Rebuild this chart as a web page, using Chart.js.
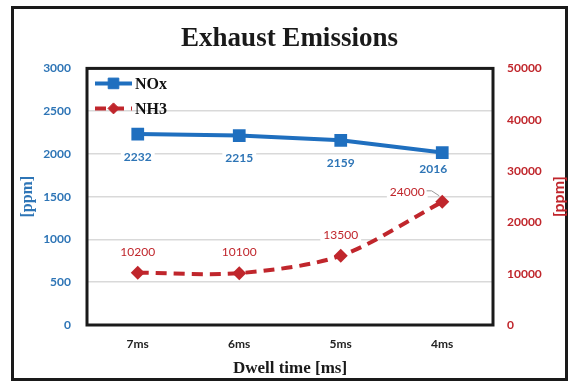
<!DOCTYPE html>
<html>
<head>
<meta charset="utf-8">
<script src="https://cdn.jsdelivr.net/npm/chart.js@4/dist/chart.umd.min.js"></script>
<style>
  html, body { margin: 0; padding: 0; background: #fff; }
  canvas { display: block; }
</style>
</head>
<body>
<canvas id="c" width="571" height="382"></canvas>
<script>
// Dwell time settings and measured exhaust concentrations
const categories = ['7ms', '6ms', '5ms', '4ms'];
const noxValues = [2232, 2215, 2159, 2016];      // left axis, ppm
const nh3Values = [10200, 10100, 13500, 24000];  // right axis, ppm
const leftTicks = [0, 500, 1000, 1500, 2000, 2500, 3000];
const rightTicks = [0, 10000, 20000, 30000, 40000, 50000];

const BLUE = '#1F6FBF';
const BLUE_TEXT = '#2E75B6';
const RED = '#C0262C';
const SERIF = '"Liberation Serif", "Times New Roman", serif';
const SANS = 'Lato, "Open Sans", sans-serif';

// Outer frame, plot border, in-plot legend and right axis title
const framePlugin = {
  id: 'frame',
  beforeDraw(chart) {
    const ctx = chart.ctx;
    ctx.save();
    ctx.fillStyle = '#fff';
    ctx.fillRect(0, 0, chart.width, chart.height);
    ctx.strokeStyle = '#1a1a1a';
    ctx.lineWidth = 3;
    ctx.strokeRect(12.5, 7.5, 554, 372);
    ctx.restore();
  },
  beforeDatasetsDraw(chart) {
    const { ctx, chartArea: a } = chart;
    ctx.save();
    ctx.strokeStyle = '#1a1a1a';
    ctx.lineWidth = 3;
    ctx.strokeRect(a.left, a.top, a.right - a.left, a.bottom - a.top);
    // secondary axis title, reading bottom to top
    const s = chart.scales.y1;
    ctx.translate(s.right - 12, (a.top + a.bottom) / 2);
    ctx.rotate(-Math.PI / 2);
    ctx.fillStyle = RED;
    ctx.font = 'bold 16px ' + SANS;
    ctx.textAlign = 'center';
    ctx.textBaseline = 'middle';
    ctx.fillText('[ppm]', 0, 0);
    ctx.restore();
  },
  afterDatasetsDraw(chart) {
    const { ctx, chartArea: a } = chart;
    ctx.save();
    chart.data.datasets.forEach((ds, i) => {
      const y = a.top + 15 + i * 25;
      const x0 = a.left + 8, x1 = a.left + 45;
      ctx.strokeStyle = ds.borderColor;
      ctx.lineWidth = ds.borderWidth;
      ctx.setLineDash(ds.borderDash || []);
      ctx.beginPath();
      ctx.moveTo(x0, y);
      ctx.lineTo(x1, y);
      ctx.stroke();
      ctx.setLineDash([]);
      ctx.fillStyle = ds.backgroundColor;
      ctx.strokeStyle = ds.backgroundColor;
      ctx.lineWidth = 1;
      Chart.helpers.drawPoint(ctx, {
        pointStyle: ds.pointStyle,
        radius: ds.pointStyle === 'rect' ? 7.5 : 5.5,
        borderWidth: 1
      }, (x0 + x1) / 2, y);
      ctx.fillStyle = '#111';
      ctx.font = 'bold 16px ' + SERIF;
      ctx.textBaseline = 'middle';
      ctx.textAlign = 'left';
      ctx.fillText(ds.label, x1 + 3, y + 1);
    });
    ctx.restore();
  }
};

// Value labels next to each marker
const valueLabelPlugin = {
  id: 'valueLabels',
  afterDatasetsDraw(chart) {
    const ctx = chart.ctx;
    ctx.save();
    ctx.textAlign = 'center';
    ctx.textBaseline = 'middle';
    chart.data.datasets.forEach((ds, di) => {
      const meta = chart.getDatasetMeta(di);
      const cfg = ds.valueLabel;
      ctx.font = cfg.font;
      meta.data.forEach((pt, i) => {
        const text = String(ds.data[i]);
        const off = (cfg.offsets && cfg.offsets[i]) || cfg.offset;
        const x = pt.x + off[0];
        const y = pt.y + off[1];
        const w = ctx.measureText(text).width;
        ctx.fillStyle = '#fff';
        ctx.fillRect(x - w / 2 - 3, y - 8, w + 6, 16);
        if (cfg.leader && cfg.leader[i]) {
          ctx.strokeStyle = '#9a9a9a';
          ctx.lineWidth = 1;
          ctx.beginPath();
          ctx.moveTo(x + w / 2 + 2, y - 1);
          ctx.lineTo(x + w / 2 + 7, y - 1);
          ctx.lineTo(pt.x - 3, pt.y - 6);
          ctx.stroke();
        }
        ctx.fillStyle = cfg.color;
        ctx.fillText(text, x, y);
      });
    });
    ctx.restore();
  }
};

new Chart(document.getElementById('c'), {
  type: 'line',
  data: {
    labels: categories,
    datasets: [
      {
        label: 'NOx',
        data: noxValues,
        yAxisID: 'y',
        borderColor: BLUE,
        backgroundColor: BLUE,
        borderWidth: 4,
        pointStyle: 'rect',
        pointRadius: 9,
        pointHoverRadius: 9,
        pointBorderWidth: 0,
        tension: 0,
        valueLabel: { color: BLUE_TEXT, font: 'bold 12px ' + SANS, offset: [0, 23], offsets: { 3: [-9, 17] } }
      },
      {
        label: 'NH3',
        data: nh3Values,
        yAxisID: 'y1',
        borderColor: RED,
        backgroundColor: RED,
        borderWidth: 4,
        borderDash: [11, 7],
        pointStyle: 'rectRot',
        pointRadius: 7,
        pointHoverRadius: 7,
        pointBorderWidth: 0,
        tension: 0.3,
        valueLabel: { color: RED, font: '12px ' + SANS, offset: [0, -21], offsets: { 3: [-35, -10] }, leader: { 3: true } }
      }
    ]
  },
  options: {
    responsive: false,
    animation: false,
    devicePixelRatio: 1,
    layout: { padding: { top: 3, left: 8, right: 0, bottom: 0 } },
    plugins: {
      legend: { display: false },
      tooltip: { enabled: false },
      title: {
        display: true,
        text: 'Exhaust Emissions',
        color: '#1a1a1a',
        font: { family: SERIF, size: 27, weight: 'bold' },
        padding: { top: 20, bottom: 13 }
      }
    },
    scales: {
      x: {
        offset: true,
        grid: { display: false, drawTicks: false },
        border: { display: false },
        ticks: { color: '#222', font: { family: SANS, size: 12, weight: 'bold' }, padding: 12 },
        title: {
          display: true,
          text: 'Dwell time [ms]',
          color: '#1a1a1a',
          font: { family: SERIF, size: 17, weight: 'bold' },
          padding: { top: 4, bottom: 3 }
        },
        afterFit(s) { s.height = 57; }
      },
      y: {
        position: 'left',
        min: 0,
        max: 3000,
        afterBuildTicks(s) { s.ticks = leftTicks.map(v => ({ value: v })); },
        grid: { color: '#d9d9d9', lineWidth: 1.5, drawTicks: false },
        border: { display: false },
        ticks: {
          color: BLUE_TEXT,
          font: { family: SANS, size: 12, weight: 'bold' },
          padding: 16,
          callback: v => String(v)
        },
        title: {
          display: true,
          text: '[ppm]',
          color: BLUE_TEXT,
          font: { family: SERIF, size: 16, weight: 'bold' },
          padding: { top: 10, bottom: 0 }
        },
        afterFit(s) { s.width = 79; }
      },
      y1: {
        position: 'right',
        min: 0,
        max: 50000,
        afterBuildTicks(s) { s.ticks = rightTicks.map(v => ({ value: v })); },
        grid: { display: false, drawTicks: false },
        border: { display: false },
        ticks: {
          color: RED,
          font: { family: SANS, size: 12, weight: 'bold' },
          padding: 14,
          callback: v => String(v)
        },
        afterFit(s) { s.width = 78; }
      }
    }
  },
  plugins: [framePlugin, valueLabelPlugin]
});
</script>
</body>
</html>
